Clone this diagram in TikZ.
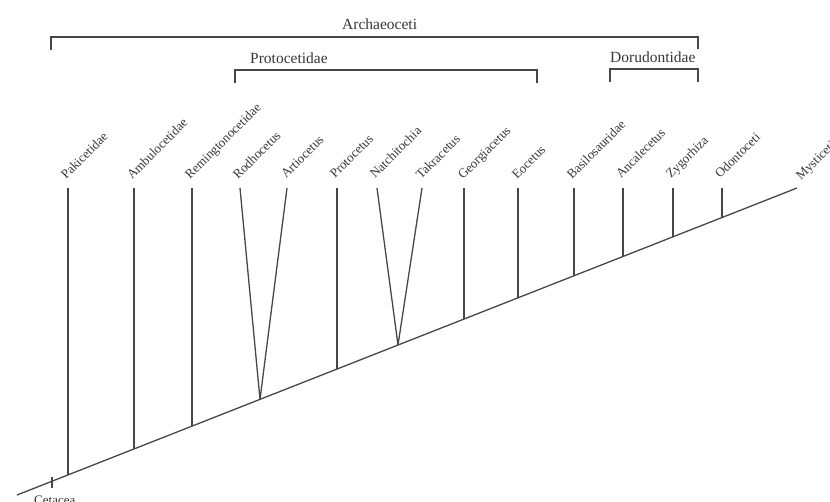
\documentclass[tikz,border=0pt]{standalone}
\usepackage{fontspec}
\setmainfont{Liberation Serif}
\begin{document}
\begin{tikzpicture}[x=1pt,y=-1pt,
  tree/.style={draw=black!72, line width=1.3pt},
  brk/.style={draw=black!72, line width=1.8pt},
  leaf/.style={rotate=45, anchor=base west, inner sep=0pt, font=\fontsize{13}{15}\selectfont, text=black!78},
  grp/.style={anchor=base west, inner sep=0pt, font=\fontsize{15.5}{18}\selectfont, text=black!78}]
\clip (0,0) rectangle (830,502);
\fill[white] (0,0) rectangle (830,502);
% main line
\coordinate (root) at (17,495);
\coordinate (mend) at (797,188);
\draw[tree] (root) -- (mend);
% Cetacea tick
\coordinate (ct1) at (52,477);
\coordinate (ct2) at (52,488);
\draw[tree] (ct1) -- (ct2);
\node[anchor=north west, inner sep=0pt, font=\fontsize{13}{15}\selectfont, text=black!78] (cetacea) at (34,496) {Cetacea};
% leaves: top coordinates
\foreach \n/\x in {pak/68, amb/134, rem/192, rod/240, art/287, pro/337, nat/377, tak/422, geo/464, eoc/518, bas/574, anc/623, zyg/673, odo/722}
  \coordinate (t\n) at (\x,188);
% junctions on main line
\coordinate (jpak) at (68,474.9);
\coordinate (jamb) at (134,448.9);
\coordinate (jrem) at (192,426.1);
\coordinate (jra) at (260,399.4);
\coordinate (jpro) at (337,369.1);
\coordinate (jnt) at (398,345.0);
\coordinate (jgeo) at (464,319.1);
\coordinate (jeoc) at (518,297.8);
\coordinate (jbas) at (574,275.8);
\coordinate (janc) at (623,256.5);
\coordinate (jzyg) at (673,236.8);
\coordinate (jodo) at (722,217.5);
\draw[tree] (tpak) -- (jpak);
\draw[tree] (tamb) -- (jamb);
\draw[tree] (trem) -- (jrem);
\draw[tree] (trod) -- (jra);
\draw[tree] (tart) -- (jra);
\draw[tree] (tpro) -- (jpro);
\draw[tree] (tnat) -- (jnt);
\draw[tree] (ttak) -- (jnt);
\draw[tree] (tgeo) -- (jgeo);
\draw[tree] (teoc) -- (jeoc);
\draw[tree] (tbas) -- (jbas);
\draw[tree] (tanc) -- (janc);
\draw[tree] (tzyg) -- (jzyg);
\draw[tree] (todo) -- (jodo);
% leaf labels
\node[leaf] (lpak) at (66,180) {Pakicetidae};
\node[leaf] (lamb) at (132,180) {Ambulocetidae};
\node[leaf] (lrem) at (190,180) {Remingtonocetidae};
\node[leaf] (lrod) at (238,180) {Rodhocetus};
\node[leaf] (lart) at (286,179) {Artiocetus};
\node[leaf] (lpro) at (335,179) {Protocetus};
\node[leaf] (lnat) at (375,179) {Natchitochia};
\node[leaf] (ltak) at (421,180) {Takracetus};
\node[leaf] (lgeo) at (463,180) {Georgiacetus};
\node[leaf] (leoc) at (517,180) {Eocetus};
\node[leaf] (lbas) at (572,180) {Basilosauridae};
\node[leaf] (lanc) at (621,179) {Ancalecetus};
\node[leaf] (lzyg) at (671,179) {Zygorhiza};
\node[leaf] (lodo) at (720,179) {Odontoceti};
\node[leaf] (lmys) at (801,181) {Mysticeti};
% brackets
\coordinate (a1) at (51,50); \coordinate (a2) at (51,37);
\coordinate (a3) at (698,37); \coordinate (a4) at (698,49);
\draw[brk] (a1) -- (a2) -- (a3) -- (a4);
\coordinate (p1) at (235,83); \coordinate (p2) at (235,70);
\coordinate (p3) at (537,70); \coordinate (p4) at (537,83);
\draw[brk] (p1) -- (p2) -- (p3) -- (p4);
\coordinate (d1) at (610,82); \coordinate (d2) at (610,69);
\coordinate (d3) at (698,69); \coordinate (d4) at (698,82);
\draw[brk] (d1) -- (d2) -- (d3) -- (d4);
\node[grp] (garch) at (342,30) {Archaeoceti};
\node[grp] (gprot) at (250,64) {Protocetidae};
\node[grp] (gdoru) at (610,63) {Dorudontidae};
\end{tikzpicture}
\end{document}
